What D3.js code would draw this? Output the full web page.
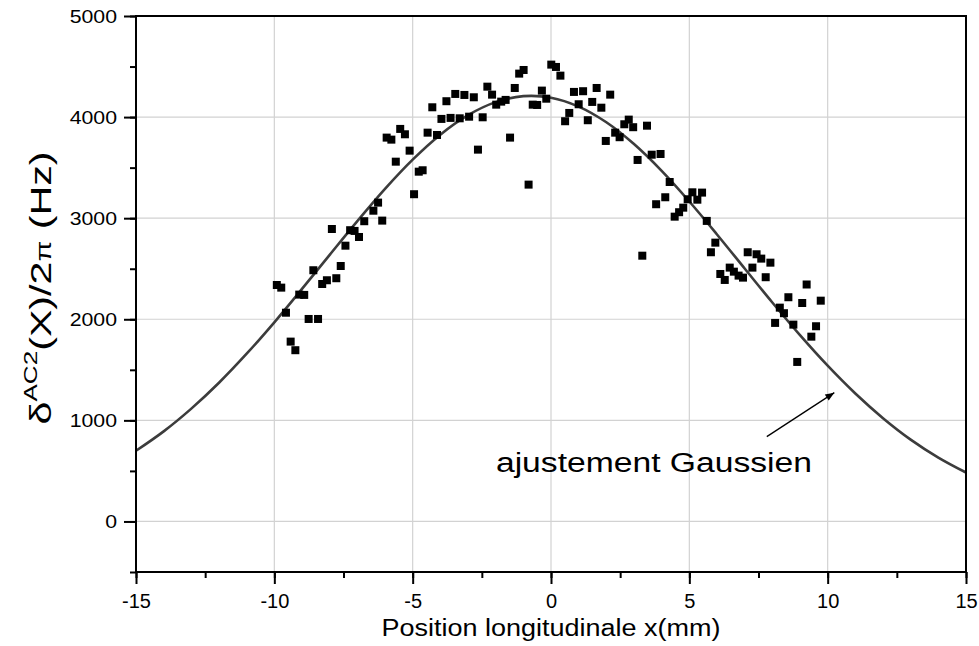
<!DOCTYPE html>
<html>
<head>
<meta charset="utf-8">
<script src="https://cdn.jsdelivr.net/npm/d3@7"></script>
<style>
  body { margin: 0; background: #fff; }
  svg { display: block; }
</style>
</head>
<body>
<svg id="chart"></svg>
<script>
// measured points, position (mm) and light shift (Hz)
const posX = [
  -9.91, -9.75, -9.58, -9.41, -9.24, -9.10, -8.92, -8.76, -8.59, -8.42,
  -8.27, -8.10, -7.92, -7.76, -7.60, -7.43, -7.26, -7.10, -6.94, -6.75,
  -6.42, -6.25, -6.10, -5.94, -5.77, -5.61, -5.45, -5.28, -5.11, -4.95,
  -4.78, -4.64, -4.46, -4.29, -4.12, -3.96, -3.78, -3.63, -3.46, -3.30,
  -3.13, -2.96, -2.79, -2.64, -2.47, -2.30, -2.13, -1.98, -1.80, -1.64,
  -1.48, -1.31, -1.15, -0.99, -0.81, -0.66, -0.50, -0.33, -0.17, 0.01,
  0.18, 0.34, 0.51, 0.66, 0.83, 1.00, 1.16, 1.33, 1.49, 1.65,
  1.82, 1.98, 2.14, 2.32, 2.48, 2.65, 2.81, 2.97, 3.13, 3.30,
  3.47, 3.64, 3.80, 3.96, 4.13, 4.29, 4.47, 4.63, 4.78, 4.94,
  5.11, 5.29, 5.46, 5.63, 5.78, 5.94, 6.12, 6.28, 6.46, 6.61,
  6.78, 6.94, 7.11, 7.28, 7.43, 7.60, 7.76, 7.93, 8.10, 8.27,
  8.42, 8.58, 8.76, 8.90, 9.08, 9.24, 9.41, 9.58, 9.75
];
const shiftHz = [
  2339, 2313, 2065, 1779, 1694, 2244, 2241, 2003, 2485, 2003,
  2349, 2386, 2893, 2406, 2527, 2728, 2881, 2874, 2814, 2970,
  3074, 3154, 2976, 3797, 3777, 3559, 3883, 3830, 3668, 3237,
  3460, 3474, 3846, 4097, 3823, 3982, 4157, 3992, 4229, 3988,
  4219, 4004, 4196, 3678, 3998, 4301, 4222, 4123, 4153, 4170,
  3797, 4288, 4430, 4466, 3332, 4123, 4120, 4262, 4182, 4519,
  4496, 4410, 3959, 4041, 4249, 4127, 4256, 3969, 4150, 4288,
  4093, 3764, 4222, 3846, 3801, 3929, 3975, 3900, 3576, 2629,
  3915, 3628, 3138, 3635, 3207, 3358, 3015, 3059, 3104, 3187,
  3256, 3183, 3253, 2973, 2663, 2758, 2448, 2389, 2511, 2471,
  2432, 2412, 2663, 2511, 2643, 2600, 2416, 2560, 1964, 2115,
  2060, 2218, 1947, 1578, 2161, 2344, 1828, 1931, 2184
];

// gaussian fit curve, read every 1 mm
const fitX = [-15, -14, -13, -12, -11, -10, -9, -8, -7, -6, -5, -4, -3, -2, -1, 0,
  1, 2, 3, 4, 5, 6, 7, 8, 9, 10, 11, 12, 13, 14, 15];
const fitY = [699, 891, 1116, 1372, 1659, 1970, 2300, 2637, 2971, 3290, 3579, 3826, 4019, 4148, 4207, 4192,
  4104, 3949, 3733, 3468, 3165, 2839, 2502, 2166, 1843, 1541, 1266, 1022, 810, 632, 484];

const xTicks = [-15, -10, -5, 0, 5, 10, 15];
const yTicks = [0, 1000, 2000, 3000, 4000, 5000];

const width = 979, height = 646;
const margin = { top: 16, right: 13, bottom: 74, left: 136 };
const w = width - margin.left - margin.right;
const h = height - margin.top - margin.bottom;
const font = "'Liberation Sans', Arial, sans-serif";

const svg = d3.select("#chart").attr("width", width).attr("height", height);

const xScale = d3.scaleLinear().domain([-15, 15]).range([0, w]);
const yScale = d3.scaleLinear().domain([-500, 5000]).range([h, 0]);

const g = svg.append("g").attr("transform", `translate(${margin.left},${margin.top})`);

// grid
g.append("g").selectAll("line")
  .data(xTicks.filter(d => d > -15 && d < 15))
  .join("line")
  .attr("x1", d => xScale(d)).attr("x2", d => xScale(d))
  .attr("y1", 0).attr("y2", h)
  .attr("stroke", "#d2d2d2").attr("stroke-width", 1.2);
g.append("g").selectAll("line")
  .data(yTicks.filter(d => d < 5000))
  .join("line")
  .attr("x1", 0).attr("x2", w)
  .attr("y1", d => yScale(d)).attr("y2", d => yScale(d))
  .attr("stroke", "#d2d2d2").attr("stroke-width", 1.2);

// fit curve
const line = d3.line()
  .x((d, i) => xScale(fitX[i]))
  .y(d => yScale(d))
  .curve(d3.curveCatmullRom);
g.append("path")
  .attr("d", line(fitY))
  .attr("fill", "none")
  .attr("stroke", "#3c3c3c")
  .attr("stroke-width", 2.6);

// data squares
const sq = 8;
g.append("g").selectAll("rect")
  .data(posX.map((x, i) => [x, shiftHz[i]]))
  .join("rect")
  .attr("x", d => xScale(d[0]) - sq / 2)
  .attr("y", d => yScale(d[1]) - sq / 2)
  .attr("width", sq).attr("height", sq)
  .attr("fill", "#000");

// frame
g.append("rect")
  .attr("width", w).attr("height", h)
  .attr("fill", "none").attr("stroke", "#000").attr("stroke-width", 2);

// x axis (minor then major ticks)
const xAxis = g.append("g")
  .attr("transform", `translate(0,${h})`)
  .call(d3.axisBottom(xScale).tickValues(d3.range(-15, 15.1, 2.5)).tickSize(6).tickFormat(""));
xAxis.select(".domain").remove();
xAxis.selectAll(".tick line").attr("stroke-width", 2);
const xMajor = g.append("g")
  .attr("transform", `translate(0,${h})`)
  .call(d3.axisBottom(xScale).tickValues(xTicks).tickSize(12).tickPadding(10).tickFormat(d => String(d)));
xMajor.select(".domain").remove();
xMajor.selectAll(".tick line").attr("stroke-width", 2);
xMajor.selectAll(".tick text")
  .attr("fill", "#000")
  .style("font-family", font)
  .style("font-size", "20px");

// y axis
const yAxis = g.append("g")
  .call(d3.axisLeft(yScale).tickValues(d3.range(-500, 5001, 500)).tickSize(6).tickFormat(""));
yAxis.select(".domain").remove();
yAxis.selectAll(".tick line").attr("stroke-width", 2);
const yMajor = g.append("g")
  .call(d3.axisLeft(yScale).tickValues(yTicks).tickSize(12).tickPadding(7).tickFormat(d => String(d)));
yMajor.select(".domain").remove();
yMajor.selectAll(".tick line").attr("stroke-width", 2);
yMajor.selectAll(".tick text")
  .attr("fill", "#000")
  .attr("x", 0)
  .attr("transform", "translate(-19,0) scale(1.12,1)")
  .style("font-family", font)
  .style("font-size", "19px");

// axis titles
svg.append("text")
  .attr("x", margin.left + w / 2)
  .attr("y", 636)
  .attr("text-anchor", "middle")
  .attr("textLength", 339)
  .attr("lengthAdjust", "spacingAndGlyphs")
  .style("font-family", font)
  .style("font-size", "23px")
  .text("Position longitudinale x(mm)");

const yt = svg.append("text")
  .attr("transform", "translate(51,288) rotate(-90)")
  .attr("text-anchor", "middle")
  .attr("textLength", 273)
  .attr("lengthAdjust", "spacingAndGlyphs")
  .style("font-family", font)
  .style("font-size", "30px");
yt.append("tspan").text("δ");
yt.append("tspan").attr("dy", -14).style("font-size", "19px").text("AC2");
yt.append("tspan").attr("dy", 14).text("(X)/2");
yt.append("tspan").style("font-size", "22px").text("π");
yt.append("tspan").text(" (Hz)");

// annotation
svg.append("defs").append("marker")
  .attr("id", "arrow")
  .attr("viewBox", "0 0 10 10")
  .attr("refX", 10).attr("refY", 5)
  .attr("markerWidth", 11).attr("markerHeight", 9)
  .attr("markerUnits", "userSpaceOnUse")
  .attr("orient", "auto")
  .append("path").attr("d", "M0,1 L10,5 L0,9 Z").attr("fill", "#000");

g.append("line")
  .attr("x1", xScale(7.80)).attr("y1", yScale(839))
  .attr("x2", xScale(10.24)).attr("y2", yScale(1274))
  .attr("stroke", "#000").attr("stroke-width", 1.3)
  .attr("marker-end", "url(#arrow)");

g.append("text")
  .attr("x", xScale(-1.99))
  .attr("y", yScale(493))
  .attr("textLength", 316)
  .attr("lengthAdjust", "spacingAndGlyphs")
  .style("font-family", font)
  .style("font-size", "27px")
  .text("ajustement Gaussien");
</script>
</body>
</html>
